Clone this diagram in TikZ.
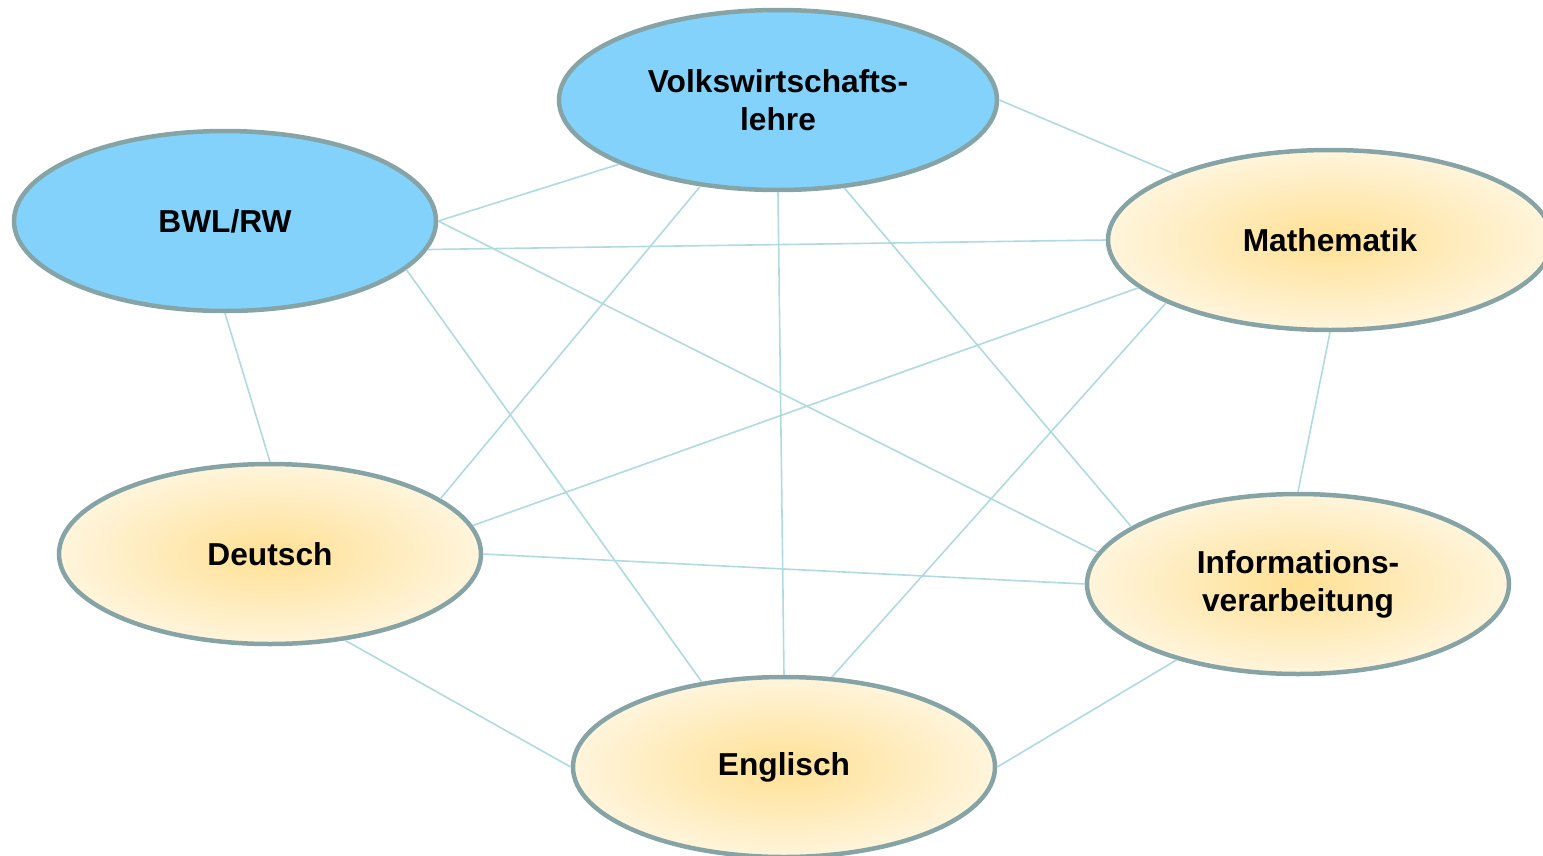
\documentclass[tikz,border=0pt]{standalone}
\usepackage{fontspec}
\setmainfont{Liberation Sans}
\usepackage{tikz}
\usepackage{xcolor}
\usetikzlibrary{shapes.geometric}
\definecolor{edge-grey}{RGB}{134,164,166}
\definecolor{link-blue}{RGB}{176,218,226}
\definecolor{core-blue}{RGB}{130,210,252}
\definecolor{sun-in}{RGB}{255,224,148}
\definecolor{sun-out}{RGB}{255,245,220}
\pgfdeclareradialshading{sun-glow}{\pgfpoint{0bp}{0bp}}{color(0bp)=(sun-in); color(25bp)=(sun-out); color(50bp)=(sun-out)}
\tikzset{
    subject-box/.style = {draw=edge-grey, line width=4.5pt, ellipse, inner sep=0pt, minimum width=422pt, minimum height=180pt, align=center, font=\fontsize{31.7}{38}\selectfont\bfseries},
    core-box/.style = {subject-box, fill=core-blue},
    side-box/.style = {subject-box, shading=sun-glow},
    link/.style = {draw=link-blue, line width=1.6pt},
}

\begin{document}
\begin{tikzpicture}[x=1pt, y=-1pt]
\useasboundingbox (0,0) rectangle (1543,855);
\node [core-box, minimum width=438pt] (vwl) at (778,100) {Volkswirtschafts-\\lehre};
\node [core-box] (bwl) at (225,221) {BWL/RW};
\node [side-box, minimum width=444pt] (mathe) at (1330,240) {Mathematik};
\node [side-box] (deutsch) at (270,554) {Deutsch};
\node [side-box] (info) at (1298,584) {Informations-\\verarbeitung};
\node [side-box] (englisch) at (784,767) {Englisch};

\draw [link] (bwl.0) -- (vwl.202);
\draw [link] (vwl.0) -- (mathe.157.6);
\draw [link] (bwl.-8.8) -- (mathe.180);
\draw [link] (bwl.0) -- (info.171.6);
\draw [link] (bwl.-15.5) -- (englisch.134.4);
\draw [link] (bwl.-90) -- (deutsch.90);
\draw [link] (vwl.-132) -- (deutsch.18.4);
\draw [link] (vwl.-90) -- (englisch.90);
\draw [link] (vwl.-53.1) -- (info.161.9);
\draw [link] (mathe.194) -- (deutsch.8.8);
\draw [link] (mathe.201.5) -- (englisch.62.2);
\draw [link] (mathe.-90) -- (info.90);
\draw [link] (deutsch.0) -- (info.180);
\draw [link] (deutsch.-49.7) -- (englisch.180);
\draw [link] (info.212.7) -- (englisch.0);
\end{tikzpicture}
\end{document}
